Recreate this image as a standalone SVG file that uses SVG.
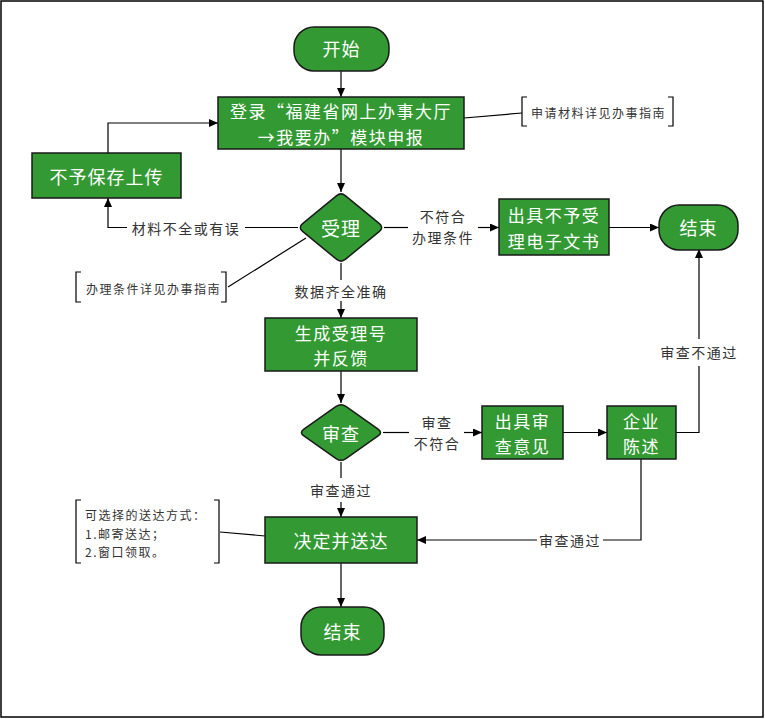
<svg xmlns="http://www.w3.org/2000/svg" width="765" height="719" viewBox="0 0 765 719">
<defs>
<marker id="arr" markerWidth="10" markerHeight="8" refX="9" refY="4" orient="auto" markerUnits="userSpaceOnUse">
<path d="M0,0 L9,4 L0,8 Z" fill="#000"/>
</marker>
<style>
.n{fill:#339933;stroke:#1a1a1a;stroke-width:1.5}
.t{fill:#fff;font-family:"Noto Sans CJK SC","Liberation Sans",sans-serif;font-size:18px;text-anchor:middle;dominant-baseline:central;letter-spacing:1px}
.t2{font-size:17px;letter-spacing:1.5px}
.c{fill:none;stroke:#000;stroke-width:1.2}
.ca{fill:none;stroke:#000;stroke-width:1.2;marker-end:url(#arr)}
.l{fill:#333;font-family:"Noto Sans CJK SC","Liberation Sans",sans-serif;font-size:14px;text-anchor:middle;dominant-baseline:central;letter-spacing:1.5px}
.s{fill:#333;font-family:"Noto Sans CJK SC","Liberation Serif",serif;font-size:12px;dominant-baseline:central;letter-spacing:1.5px}
.b{fill:none;stroke:#000;stroke-width:1.2}
</style>
</defs>
<rect x="1" y="1" width="762" height="716" fill="#fff" stroke="#000" stroke-width="1.5"/>

<g id="connectors">
<path class="ca" d="M341,71 V97"/>
<path class="ca" d="M341,149 V192"/>
<path class="c" d="M298,227.5 H245"/>
<path class="ca" d="M127,227.5 H108 V198"/>
<path class="ca" d="M108,153 V123 H218"/>
<path class="c" d="M384,227.5 H408"/>
<path class="ca" d="M478,227.5 H499"/>
<path class="ca" d="M609,227.5 H659"/>
<path class="c" d="M341,263 V280"/>
<path class="ca" d="M341,301 V318"/>
<path class="ca" d="M341,371 V403"/>
<path class="c" d="M383,432.5 H409"/>
<path class="ca" d="M464,432.5 H482"/>
<path class="ca" d="M563,432.5 H607"/>
<path class="c" d="M676,432.5 H699 V366"/>
<path class="ca" d="M699,339 V249"/>
<path class="c" d="M641,459 V540 H603"/>
<path class="ca" d="M537,540 H417"/>
<path class="c" d="M341,462 V478"/>
<path class="ca" d="M341,502 V517"/>
<path class="ca" d="M341,563 V607"/>
<path class="c" d="M464,118 L522,113"/>
<path class="c" d="M306,238 L228,287"/>
<path class="c" d="M220,532 L265,536"/>
<text class="l" x="186" y="227.5">材料不全或有误</text>
<text class="l" x="443" y="216">不符合<tspan x="443" dy="21">办理条件</tspan></text>
<text class="l" x="341" y="291">数据齐全准确</text>
<text class="l" x="437" y="421.5">审查<tspan x="437" dy="21">不符合</tspan></text>
<text class="l" x="699" y="352">审查不通过</text>
<text class="l" x="570" y="540">审查通过</text>
<text class="l" x="341" y="490">审查通过</text>
</g>

<g id="start">
<rect class="n" x="294" y="27" width="95" height="44" rx="20"/>
<text class="t" x="341.5" y="48">开始</text>
</g>
<g id="login">
<rect class="n" x="218" y="97" width="246" height="52"/>
<text class="t t2" x="341" y="110.5">登录“福建省网上办事大厅<tspan x="341" dy="25">→我要办”模块申报</tspan></text>
</g>
<g id="note1">
<path class="b" d="M527,97 H522 V126 H527 M668,97 H673 V126 H668"/>
<text class="s" x="531" y="112">申请材料详见办事指南</text>
</g>
<g id="nosave">
<rect class="n" x="32" y="153" width="149" height="45"/>
<text class="t" x="106.5" y="175.5">不予保存上传</text>
</g>
<g id="accept">
<path class="n" d="M345.6,195.8 L379.4,223.7 Q384,227.5 379.4,231.3 L345.6,259.2 Q341,263 336.4,259.2 L302.6,231.3 Q298,227.5 302.6,223.7 L336.4,195.8 Q341,192 345.6,195.8 Z"/>
<text class="t" x="341" y="227.5" style="font-size:19px">受理</text>
</g>
<g id="note2">
<path class="b" d="M81,272 H76 V302 H81 M221,272 H226 V302 H221"/>
<text class="s" x="86" y="288">办理条件详见办事指南</text>
</g>
<g id="reject">
<rect class="n" x="499" y="199" width="110" height="56"/>
<text class="t t2" x="554" y="214.5">出具不予受<tspan x="554" dy="25">理电子文书</tspan></text>
</g>
<g id="end1">
<rect class="n" x="659" y="205" width="79" height="45" rx="20"/>
<text class="t" x="698.5" y="227">结束</text>
</g>
<g id="number">
<rect class="n" x="265" y="318" width="152" height="53"/>
<text class="t t2" x="341" y="332">生成受理号<tspan x="341" dy="25">并反馈</tspan></text>
</g>
<g id="review">
<path class="n" d="M345.9,406.45 L378.1,429.05 Q383,432.5 378.1,435.95 L345.9,458.55 Q341,462 336.1,458.55 L303.9,435.95 Q299,432.5 303.9,429.05 L336.1,406.45 Q341,403 345.9,406.45 Z"/>
<text class="t" x="341" y="433">审查</text>
</g>
<g id="opinion">
<rect class="n" x="482" y="406" width="81" height="53"/>
<text class="t t2" x="522.5" y="420">出具审<tspan x="522.5" dy="25">查意见</tspan></text>
</g>
<g id="statement">
<rect class="n" x="607" y="406" width="69" height="53"/>
<text class="t t2" x="641.5" y="420">企业<tspan x="641.5" dy="25">陈述</tspan></text>
</g>
<g id="deliver">
<rect class="n" x="265" y="517" width="152" height="46"/>
<text class="t" x="341" y="540">决定并送达</text>
</g>
<g id="note3">
<path class="b" d="M81,500 H76 V563 H81 M214,500 H219 V563 H214"/>
<text class="s" x="85" y="514">可选择的送达方式：<tspan x="85" dy="18.5">1.邮寄送达；</tspan><tspan x="85" dy="18.5">2.窗口领取。</tspan></text>
</g>
<g id="end2">
<rect class="n" x="301" y="607" width="83" height="48" rx="20"/>
<text class="t" x="342.5" y="631">结束</text>
</g>
</svg>
